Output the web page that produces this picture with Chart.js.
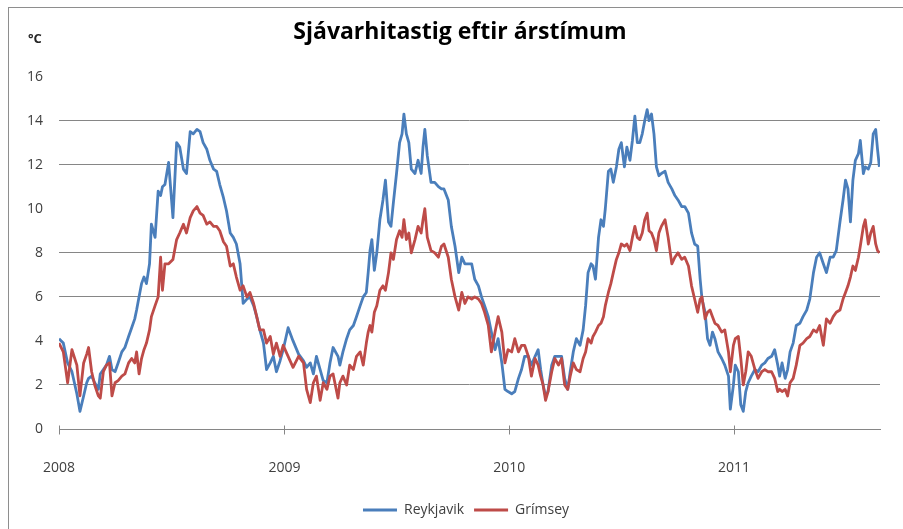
<!DOCTYPE html>
<html>
<head>
<meta charset="utf-8">
<script src="https://cdn.jsdelivr.net/npm/chart.js@4.4.1/dist/chart.umd.min.js"></script>
<style>
  html, body { margin: 0; padding: 0; background: #fff; overflow: hidden; }
  #frame { position: absolute; left: 8px; top: 7px; width: 1000px; height: 1000px; border: 1px solid #8e8e8e; }
  #wrap { position: absolute; left: 0; top: 0; width: 903px; height: 529px; }
</style>
</head>
<body>
<div id="frame"></div>
<div id="wrap"><canvas id="chart"></canvas></div>
<script>
// days since 2008-01-01
const days = [
  0, 7, 14, 21, 29, 34, 40, 45, 48, 53, 58, 64, 67, 72, 77, 82, 86, 91, 96, 102,
  107, 113, 118, 123, 126, 130, 134, 138, 142, 147, 150, 156, 161, 165, 168, 172, 178, 185, 191, 196,
  202, 207, 213, 218, 224, 229, 234, 240, 245, 251, 256, 261, 267, 272, 278, 283, 288, 294, 299, 305,
  310, 316, 321, 326, 332, 337, 343, 348, 353, 359, 364, 372, 380, 389, 397, 402, 408, 413, 418, 424,
  429, 435, 440, 445,
  453, 456, 461, 467, 472, 478, 483, 489, 494, 499, 502, 505, 508, 512, 516, 521, 526, 530, 535, 539,
  543, 548, 553, 557, 560, 564, 568, 572, 578, 583, 588, 591, 594, 598, 604, 610, 616, 621, 625, 632,
  637, 643, 649, 654, 659, 664, 670, 675, 681, 686, 691, 697, 702, 708, 713, 719, 724, 729, 735,
  740, 746, 751, 756, 762, 767, 773, 778, 782, 786, 790, 794, 800, 805, 811, 816, 821, 826, 830, 835,
  840, 846, 851, 855, 859, 864, 867, 871, 876, 880, 884, 887, 892, 896, 900, 905, 909, 913, 918, 922,
  927, 931, 935, 939, 943, 947, 951, 955, 958, 962, 966, 970, 974, 978, 984, 989, 995, 1000, 1005, 1011,
  1016, 1022, 1027,
  1032, 1037, 1041, 1044, 1049, 1053, 1057, 1061, 1065, 1070, 1076, 1081, 1087, 1090, 1095, 1098, 1103, 1107, 1111, 1115,
  1119, 1124, 1130, 1135, 1141, 1146, 1151, 1157, 1162, 1167, 1170, 1174, 1179, 1183, 1187, 1192, 1197, 1203, 1208, 1214,
  1219, 1225, 1230, 1235, 1241, 1246, 1252, 1257, 1262, 1268, 1273, 1277, 1281, 1285, 1289, 1293, 1298, 1301, 1306, 1309,
  1314, 1318, 1322, 1326, 1329, 1332
];

const reykjavik = [
  4.1, 3.9, 3.0, 2.6, 1.6, 0.8, 1.5, 2.1, 2.3, 2.4, 2.1, 1.8, 2.5, 2.7, 2.9, 3.3, 2.7, 2.6, 3.0, 3.5,
  3.7, 4.2, 4.6, 5.0, 5.4, 6.0, 6.6, 6.9, 6.6, 7.5, 9.3, 8.7, 10.8, 10.6, 11.0, 11.1, 12.1, 9.6, 13.0, 12.8,
  11.8, 11.6, 13.5, 13.4, 13.6, 13.5, 13.0, 12.7, 12.2, 11.8, 11.7, 11.1, 10.5, 9.9, 8.9, 8.7, 8.4, 7.5, 5.7, 5.9,
  6.0, 5.6, 5.1, 4.5, 3.9, 2.7, 3.0, 3.3, 2.6, 3.1, 3.6, 4.6, 4.0, 3.4, 3.1, 2.8, 3.0, 2.5, 3.3, 2.7,
  2.2, 2.1, 3.0, 3.7,
  3.3, 2.9, 3.5, 4.1, 4.5, 4.7, 5.1, 5.6, 6.0, 6.2, 7.1, 8.1, 8.6, 7.2, 8.0, 9.5, 10.4, 11.3, 9.4, 9.2,
  10.3, 11.6, 13.0, 13.4, 14.3, 13.4, 13.0, 11.8, 11.6, 12.2, 11.6, 12.8, 13.6, 12.4, 11.2, 11.2, 11.0, 10.9, 10.9, 10.4,
  9.2, 8.3, 7.1, 7.8, 7.5, 7.5, 7.5, 6.8, 6.5, 6.0, 5.6, 5.1, 4.4, 3.6, 4.1, 3.0, 1.8, 1.7, 1.6,
  1.7, 2.3, 2.7, 3.3, 3.3, 2.9, 3.3, 3.6, 2.7, 2.0, 1.5, 1.7, 2.9, 3.3, 3.3, 3.3, 2.3, 1.8, 2.6, 3.5,
  4.1, 3.8, 4.5, 5.6, 7.1, 7.5, 7.4, 6.8, 8.7, 9.5, 9.2, 10.0, 11.7, 11.8, 11.2, 11.9, 12.7, 13.0, 11.9, 12.8,
  12.2, 13.1, 14.2, 13.0, 13.0, 13.4, 14.0, 14.5, 14.0, 14.3, 13.4, 11.9, 11.5, 11.6, 11.7, 11.2, 10.9, 10.6, 10.4, 10.1,
  10.1, 9.8, 8.9,
  8.4, 8.3, 6.8, 5.9, 5.3, 4.1, 3.8, 4.4, 4.1, 3.5, 3.2, 2.9, 2.4, 0.9, 2.0, 2.9, 2.6, 1.1, 0.8, 1.7,
  2.1, 2.4, 2.7, 2.6, 2.9, 3.0, 3.2, 3.3, 3.6, 2.9, 2.4, 3.0, 2.3, 2.7, 3.5, 3.9, 4.7, 4.8, 5.1, 5.4,
  5.9, 7.1, 7.8, 8.0, 7.5, 7.1, 7.8, 7.8, 8.1, 9.4, 10.4, 11.3, 10.9, 9.4, 11.3, 12.2, 12.5, 13.1, 11.6, 11.9,
  11.8, 12.1, 13.4, 13.6, 12.7, 11.9
];

const grimsey = [
  3.9, 3.5, 2.1, 3.6, 2.9, 1.5, 3.0, 3.4, 3.7, 2.6, 2.0, 1.5, 1.4, 2.6, 2.9, 3.0, 1.5, 2.1, 2.2, 2.4,
  2.5, 3.0, 3.2, 3.0, 3.5, 2.5, 3.2, 3.6, 3.9, 4.5, 5.1, 5.6, 6.0, 7.8, 6.3, 7.5, 7.5, 7.7, 8.6, 8.9,
  9.3, 8.9, 9.6, 9.9, 10.1, 9.8, 9.7, 9.3, 9.4, 9.2, 9.2, 9.0, 8.5, 8.3, 7.4, 7.5, 6.9, 6.3, 6.5, 6.0,
  6.2, 5.7, 5.1, 4.5, 4.5, 3.9, 4.2, 3.4, 3.9, 3.3, 3.8, 3.3, 2.8, 3.3, 3.0, 1.8, 1.2, 2.1, 2.4, 1.3,
  2.1, 1.8, 2.4, 2.5,
  1.4, 2.1, 2.4, 2.0, 2.9, 2.7, 3.3, 3.5, 2.9, 3.9, 4.4, 4.7, 4.4, 5.3, 5.6, 6.3, 6.5, 6.3, 7.1, 8.0,
  7.7, 8.6, 9.0, 8.7, 9.5, 8.6, 8.9, 8.0, 8.6, 9.2, 8.9, 9.5, 10.0, 8.7, 8.1, 8.0, 7.8, 8.3, 8.4, 7.8,
  6.8, 6.0, 5.4, 6.2, 5.7, 6.0, 5.9, 6.0, 5.9, 5.7, 5.3, 4.7, 3.5, 4.4, 5.1, 4.4, 3.0, 3.6, 3.5,
  4.1, 3.5, 3.8, 3.8, 3.3, 2.4, 3.2, 2.9, 2.4, 2.0, 1.3, 1.7, 2.6, 3.2, 2.9, 3.2, 2.0, 1.8, 2.4, 3.0,
  2.7, 2.6, 3.2, 3.5, 4.1, 3.9, 4.2, 4.4, 4.7, 4.8, 5.1, 5.6, 6.2, 6.6, 7.1, 7.7, 8.0, 8.4, 8.3, 8.4,
  8.1, 8.7, 9.2, 8.7, 8.6, 8.9, 9.5, 9.8, 9.0, 8.9, 8.6, 8.1, 8.9, 9.2, 9.5, 8.7, 7.5, 7.8, 8.0, 7.7,
  7.8, 7.4, 6.5,
  5.9, 5.3, 5.9, 6.0, 5.0, 5.3, 5.4, 5.1, 4.8, 4.7, 4.4, 4.5, 3.5, 2.6, 3.8, 4.1, 4.2, 3.2, 2.0, 2.6,
  3.5, 3.3, 2.7, 2.3, 2.6, 2.7, 2.6, 2.6, 2.3, 1.7, 1.8, 1.7, 1.8, 1.5, 2.1, 2.3, 2.9, 3.8, 3.9, 4.1,
  4.2, 4.5, 4.4, 4.7, 3.8, 5.0, 4.8, 5.1, 5.3, 5.4, 5.9, 6.2, 6.5, 6.9, 7.4, 7.2, 7.8, 8.3, 9.2, 9.5,
  8.4, 8.9, 9.2, 8.4, 8.1, 8.0
];

const yearStarts = [0, 366, 731, 1096];
const yearLabels = ["2008", "2009", "2010", "2011"];
const lastDay = 1333;
const hiddenGridValues = [4, 10, 16];

const FONT = "'Open Sans', 'Liberation Sans', sans-serif";
const AXIS_GREY = "#868686";

// nudge title/legend so they sit where Excel put them
const boxNudge = {
  id: "boxNudge",
  afterLayout(chart) {
    const shift = (box, dx) => { if (box) { box.left += dx; box.right += dx; } };
    shift(chart.titleBlock, 10);
    shift(chart.legend, 16);
  }
};

// tick marks crossing the x axis + the unit label in the corner
const axisExtras = {
  id: "axisExtras",
  afterDraw(chart) {
    const xs = chart.scales.x;
    const ctx = chart.ctx;
    const y0 = Math.round(xs.top) + 0.5;
    ctx.save();
    ctx.strokeStyle = AXIS_GREY;
    ctx.lineWidth = 1;
    xs.ticks.forEach(t => {
      const px = Math.round(xs.getPixelForValue(t.value)) + 0.5;
      ctx.beginPath();
      ctx.moveTo(px, y0 - 4);
      ctx.lineTo(px, y0 + 5);
      ctx.stroke();
    });
    ctx.fillStyle = "#262626";
    ctx.font = "bold 13px " + FONT;
    ctx.textBaseline = "middle";
    ctx.textAlign = "left";
    ctx.fillText("°C", 28, 39);
    ctx.restore();
  }
};

const toPoints = vals => days.map((d, i) => ({ x: d, y: vals[i] }));

new Chart(document.getElementById("chart"), {
  type: "line",
  data: {
    datasets: [
      {
        label: "Reykjavik",
        data: toPoints(reykjavik),
        borderColor: "#4a7ebb",
        backgroundColor: "#4a7ebb",
        borderWidth: 2.8,
        pointRadius: 0,
        tension: 0,
        borderJoinStyle: "round",
        order: 1
      },
      {
        label: "Grímsey",
        data: toPoints(grimsey),
        borderColor: "#be4b48",
        backgroundColor: "#be4b48",
        borderWidth: 2.8,
        pointRadius: 0,
        tension: 0,
        borderJoinStyle: "round",
        order: 0
      }
    ]
  },
  options: {
    responsive: true,
    maintainAspectRatio: false,
    animation: false,
    devicePixelRatio: 1,
    layout: { padding: { left: 20, right: 23, top: 0, bottom: 2 } },
    plugins: {
      title: {
        display: true,
        text: "Sjávarhitastig eftir árstímum",
        color: "#000",
        font: { family: FONT, size: 23, weight: "bold" },
        padding: { top: 19, bottom: 30 }
      },
      legend: {
        position: "bottom",
        labels: {
          boxWidth: 34,
          boxHeight: 3,
          padding: 10,
          color: "#404040",
          font: { family: FONT, size: 14 },
          sort: (a, b) => a.datasetIndex - b.datasetIndex,
          generateLabels(chart) {
            const items = Chart.defaults.plugins.legend.labels.generateLabels(chart);
            items.forEach(it => { it.lineWidth = 0; it.fillStyle = it.strokeStyle; });
            return items;
          }
        }
      },
      tooltip: { enabled: false }
    },
    scales: {
      x: {
        type: "linear",
        min: 0,
        max: lastDay,
        afterBuildTicks: s => { s.ticks = yearStarts.map(v => ({ value: v })); },
        afterFit: s => { s.height = 64; },
        ticks: {
          autoSkip: false,
          maxRotation: 0,
          padding: 23,
          color: "#404040",
          font: { family: FONT, size: 14 },
          callback: v => yearLabels[yearStarts.indexOf(v)]
        },
        grid: { display: false },
        border: { display: true, color: AXIS_GREY, width: 1 }
      },
      y: {
        min: 0,
        max: 16,
        afterFit: s => { s.width = 39; },
        ticks: {
          stepSize: 2,
          padding: 16,
          color: "#404040",
          font: { family: FONT, size: 14 }
        },
        grid: {
          drawTicks: false,
          color: c => hiddenGridValues.includes(c.tick.value) ? "rgba(0,0,0,0)" : AXIS_GREY,
          lineWidth: 1
        },
        border: { display: false }
      }
    }
  },
  plugins: [boxNudge, axisExtras]
});
</script>
</body>
</html>
